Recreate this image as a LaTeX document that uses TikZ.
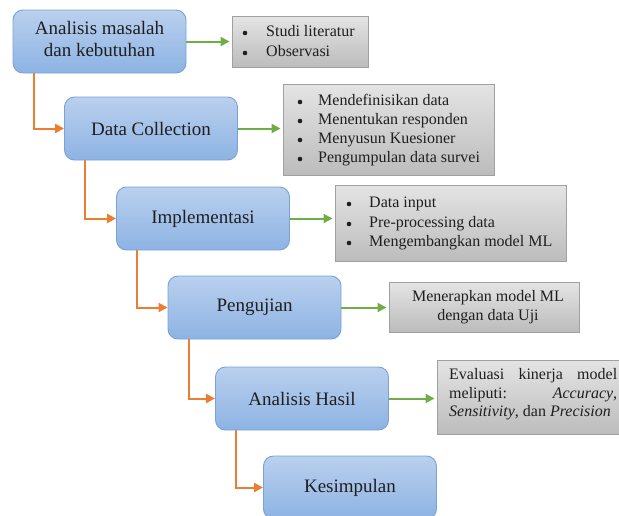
\documentclass[tikz,border=0pt]{standalone}
\usepackage{fontspec}
\setmainfont{Liberation Serif}
\usetikzlibrary{arrows.meta}
\definecolor{bluetop}{RGB}{186,208,238}
\definecolor{bluebot}{RGB}{141,179,227}
\definecolor{blueline}{RGB}{120,162,216}
\definecolor{graytop}{RGB}{228,228,228}
\definecolor{graybot}{RGB}{188,188,188}
\definecolor{grayline}{RGB}{160,160,160}
\definecolor{orangeline}{RGB}{237,125,49}
\definecolor{greenline}{RGB}{112,173,71}
\begin{document}
\begin{tikzpicture}[x=1pt,y=-1pt,
  blk/.style={draw=blueline, line width=0.9pt, rounded corners=10pt,
    top color=bluetop, bottom color=bluebot, minimum width=173pt,
    minimum height=63pt, inner sep=0pt, align=center,
    font=\fontsize{19}{22}\selectfont, text=black!88},
  gbox/.style={draw=grayline, line width=0.9pt, top color=graytop,
    bottom color=graybot, inner sep=0pt},
  tx/.style={anchor=base west, inner sep=0pt, yshift=-3.8pt, font=\fontsize{16}{19}\selectfont, text=black!88},
  bul/.style={circle, fill=black!88, inner sep=0pt, minimum size=4.6pt},
  ctx/.style={anchor=base, inner sep=0pt, yshift=-3.8pt, font=\fontsize{16}{19}\selectfont, text=black!88},
  oarr/.style={draw=orangeline, line width=2pt, -{Triangle[length=9pt,width=9pt]}},
  garr/.style={draw=greenline, line width=2pt, -{Triangle[length=9pt,width=9pt]}, shorten >=2pt}
]
\useasboundingbox (0,0) rectangle (619,515);
\clip (0,0) rectangle (619,515);

% blue process boxes
\node[blk] (b1) at (99.5,41.5) {\raisebox{-2.5pt}{\begin{tabular}{@{}c@{}}Analisis masalah\\dan kebutuhan\end{tabular}}};
\node[blk] (b2) at (151,128.5) {\raisebox{-2pt}{Data Collection}};
\node[blk] (b3) at (203,218.5) {\raisebox{-2pt}{Implementasi}};
\node[blk] (b4) at (254.5,307.5) {\raisebox{-2pt}{Pengujian}};
\node[blk] (b5) at (302,398.5) {\raisebox{-2pt}{Analisis Hasil}};
\node[blk] (b6) at (350,487.5) {\raisebox{-2pt}{Kesimpulan}};

% gray boxes
\node[gbox, minimum width=136pt, minimum height=51pt] (g1) at (300,41.5) {};
\node[gbox, minimum width=211pt, minimum height=91pt] (g2) at (388.5,129.5) {};
\node[gbox, minimum width=231pt, minimum height=76pt] (g3) at (450.5,223) {};
\node[gbox, minimum width=190pt, minimum height=50pt] (g4) at (484,307) {};
\node[gbox, minimum width=188pt, minimum height=74pt] (g5) at (531,397) {};

% texts of box 1
\node[bul] (g1b1) at (245,33) {};
\node[tx] (g1t1) at (266,33) {Studi literatur};
\node[bul] (g1b2) at (245,53) {};
\node[tx] (g1t2) at (266,53) {Observasi};

% texts of box 2
\node[bul] (g2b1) at (300,102) {};
\node[tx] (g2t1) at (318,102) {Mendefinisikan data};
\node[bul] (g2b2) at (300,121) {};
\node[tx] (g2t2) at (318,121) {Menentukan responden};
\node[bul] (g2b3) at (300,140) {};
\node[tx] (g2t3) at (318,140) {Menyusun Kuesioner};
\node[bul] (g2b4) at (300,159) {};
\node[tx] (g2t4) at (318,159) {Pengumpulan data survei};

% texts of box 3
\node[bul] (g3b1) at (349,204) {};
\node[tx] (g3t1) at (369,204) {Data input};
\node[bul] (g3b2) at (349,224) {};
\node[tx] (g3t2) at (369,224) {Pre-processing data};
\node[bul] (g3b3) at (349,243) {};
\node[tx] (g3t3) at (369,243) {Mengembangkan model ML};

% texts of box 4
\node[ctx] (g4t1) at (488,298) {Menerapkan model ML};
\node[ctx] (g4t2) at (488,317) {dengan data Uji};

% texts of box 5
\node[tx] (g5t1) at (449,376) {\makebox[168pt][s]{Evaluasi kinerja model}};
\node[tx] (g5t2) at (449,395) {\makebox[168pt][s]{meliputi: \textit{Accuracy},}};
\node[tx] (g5t3) at (449,413) {\textit{Sensitivity}, dan \textit{Precision}};

% orange flow connectors
\draw[oarr] ([xshift=21pt]b1.south west) |- (b2.west);
\draw[oarr] ([xshift=21pt]b2.south west) |- (b3.west);
\draw[oarr] ([xshift=21pt]b3.south west) |- (b4.west);
\draw[oarr] ([xshift=21pt]b4.south west) |- (b5.west);
\draw[oarr] ([xshift=21pt]b5.south west) |- (b6.west);

% green connectors
\draw[garr] (b1.east) -- (b1.east -| g1.west);
\draw[garr] (b2.east) -- (b2.east -| g2.west);
\draw[garr] (b3.east) -- (b3.east -| g3.west);
\draw[garr] (b4.east) -- (b4.east -| g4.west);
\draw[garr] (b5.east) -- (b5.east -| g5.west);
\end{tikzpicture}
\end{document}
